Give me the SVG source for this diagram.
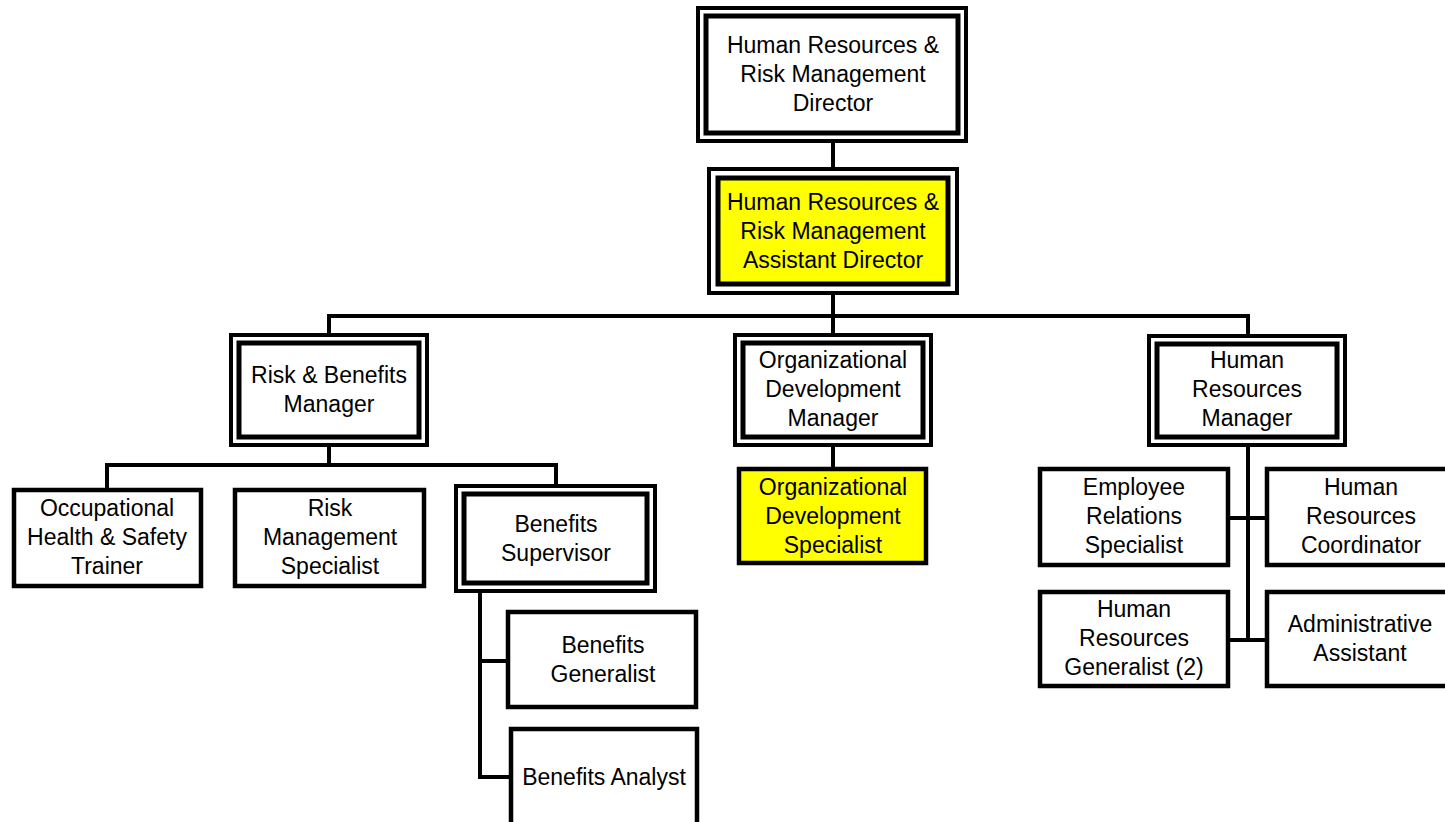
<svg xmlns="http://www.w3.org/2000/svg" width="1445" height="822" viewBox="0 0 1445 822">
<style>
.bg{fill:#ffffff}
.o{fill:#ffffff;stroke:#000;stroke-width:4}
.i{fill:#ffffff;stroke:#000;stroke-width:5}
.iy{fill:#ffff00;stroke:#000;stroke-width:5}
.s{fill:#ffffff;stroke:#000;stroke-width:4.5}
.sy{fill:#ffff00;stroke:#000;stroke-width:4.5}
.c{fill:none;stroke:#000;stroke-width:4;stroke-linejoin:miter}
text{font-family:"Liberation Sans",Arial,sans-serif;font-size:23px;fill:#000;text-anchor:middle}
</style>
<rect class="bg" x="0" y="0" width="1445" height="822"/>
<g id="connectors">
<path class="c" d="M833,143 V167"/>
<path class="c" d="M833,295 V333"/>
<path class="c" d="M329,333 V316 H1248 V334"/>
<path class="c" d="M329,447 V465"/>
<path class="c" d="M107,488 V465 H556 V484"/>
<path class="c" d="M480,593 V777 H509"/>
<path class="c" d="M480,661 H506"/>
<path class="c" d="M833,447 V467"/>
<path class="c" d="M1248,447 V640"/>
<path class="c" d="M1230,518 H1265"/>
<path class="c" d="M1230,640 H1265"/>
</g>
<g id="director">
<rect class="o" x="698" y="8" width="268" height="133"/>
<rect class="i" x="706" y="16" width="252" height="117"/>
<text x="833" y="53">Human Resources &amp;</text>
<text x="833" y="82">Risk Management</text>
<text x="833" y="111">Director</text>
</g>
<g id="assistant-director">
<rect class="o" x="709" y="169" width="248" height="124"/>
<rect class="iy" x="718" y="178" width="230" height="106"/>
<text x="833" y="210">Human Resources &amp;</text>
<text x="833" y="239">Risk Management</text>
<text x="833" y="268">Assistant Director</text>
</g>
<g id="risk-benefits-manager">
<rect class="o" x="231" y="335" width="196" height="110"/>
<rect class="i" x="239" y="343" width="180" height="94"/>
<text x="329" y="383">Risk &amp; Benefits</text>
<text x="329" y="412">Manager</text>
</g>
<g id="od-manager">
<rect class="o" x="735" y="335" width="196" height="110"/>
<rect class="i" x="743" y="343" width="180" height="94"/>
<text x="833" y="368">Organizational</text>
<text x="833" y="397">Development</text>
<text x="833" y="426">Manager</text>
</g>
<g id="hr-manager">
<rect class="o" x="1149" y="336" width="196" height="109"/>
<rect class="i" x="1157" y="344" width="180" height="93"/>
<text x="1247" y="368">Human</text>
<text x="1247" y="397">Resources</text>
<text x="1247" y="426">Manager</text>
</g>
<g id="ohs-trainer">
<rect class="s" x="14" y="490" width="187" height="96"/>
<text x="107" y="516">Occupational</text>
<text x="107" y="545">Health &amp; Safety</text>
<text x="107" y="574">Trainer</text>
</g>
<g id="risk-mgmt-specialist">
<rect class="s" x="235" y="490" width="189" height="96"/>
<text x="330" y="516">Risk</text>
<text x="330" y="545">Management</text>
<text x="330" y="574">Specialist</text>
</g>
<g id="benefits-supervisor">
<rect class="o" x="456" y="486" width="199" height="105"/>
<rect class="i" x="464" y="494" width="183" height="89"/>
<text x="556" y="532">Benefits</text>
<text x="556" y="561">Supervisor</text>
</g>
<g id="benefits-generalist">
<rect class="s" x="508" y="612" width="188" height="95"/>
<text x="603" y="653">Benefits</text>
<text x="603" y="682">Generalist</text>
</g>
<g id="benefits-analyst">
<rect class="s" x="511" y="729" width="186" height="100"/>
<text x="604" y="785">Benefits Analyst</text>
</g>
<g id="od-specialist">
<rect class="sy" x="739" y="469" width="187" height="94"/>
<text x="833" y="495">Organizational</text>
<text x="833" y="524">Development</text>
<text x="833" y="553">Specialist</text>
</g>
<g id="employee-relations-specialist">
<rect class="s" x="1040" y="469" width="188" height="96"/>
<text x="1134" y="495">Employee</text>
<text x="1134" y="524">Relations</text>
<text x="1134" y="553">Specialist</text>
</g>
<g id="hr-coordinator">
<rect class="s" x="1267" y="469" width="190" height="96"/>
<text x="1361" y="495">Human</text>
<text x="1361" y="524">Resources</text>
<text x="1361" y="553">Coordinator</text>
</g>
<g id="hr-generalist">
<rect class="s" x="1040" y="592" width="188" height="94"/>
<text x="1134" y="617">Human</text>
<text x="1134" y="646">Resources</text>
<text x="1134" y="675">Generalist (2)</text>
</g>
<g id="administrative-assistant">
<rect class="s" x="1267" y="592" width="190" height="94"/>
<text x="1360" y="632">Administrative</text>
<text x="1360" y="661">Assistant</text>
</g>
</svg>
